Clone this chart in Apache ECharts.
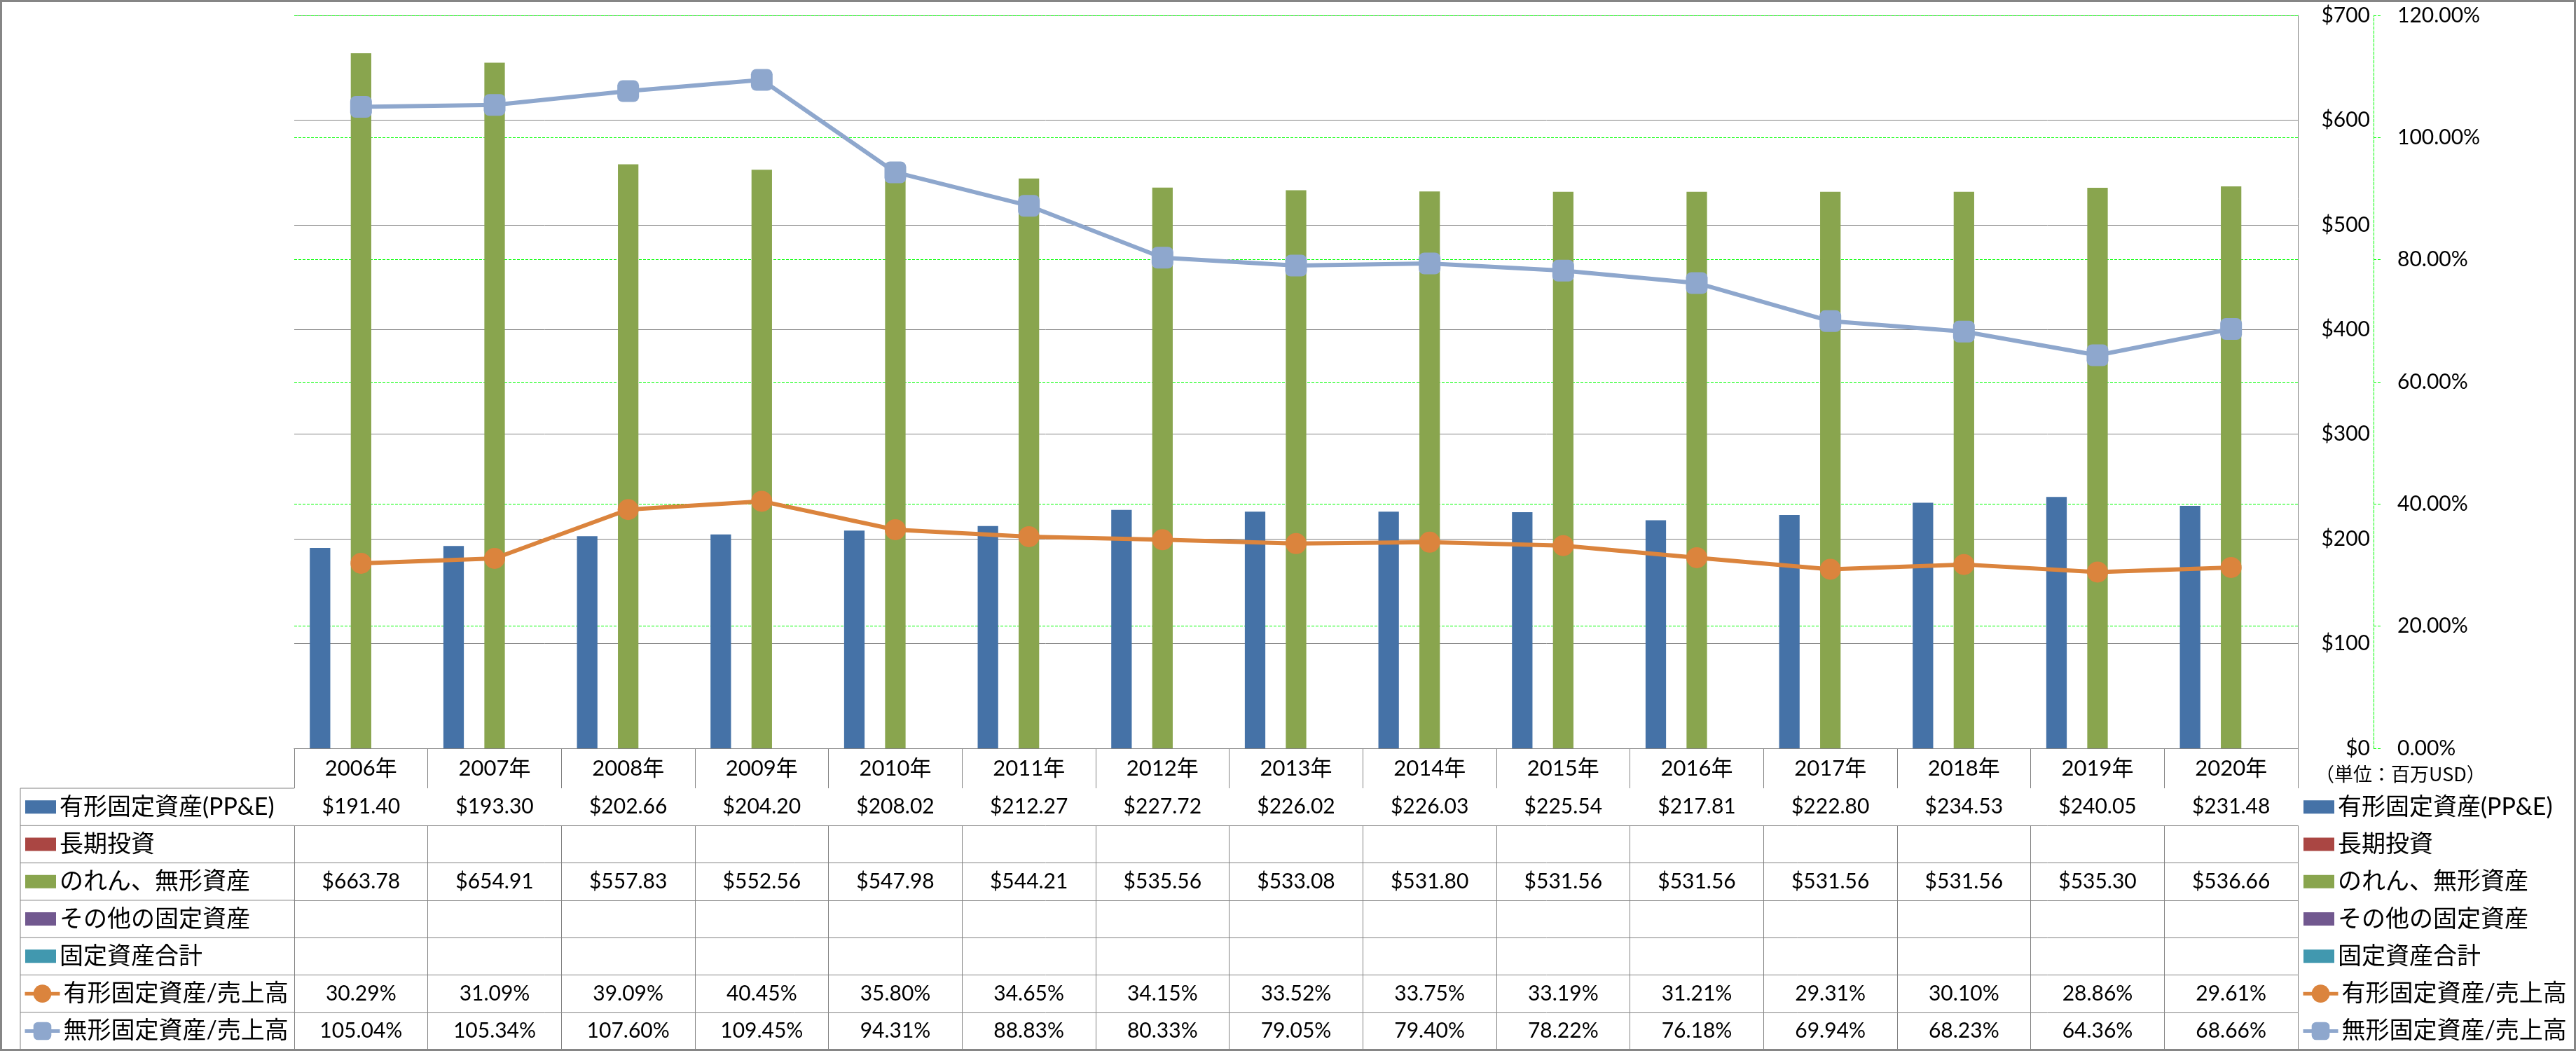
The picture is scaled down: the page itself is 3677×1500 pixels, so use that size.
<!DOCTYPE html>
<html><head><meta charset="utf-8">
<script src="https://cdn.jsdelivr.net/npm/echarts@6/dist/echarts.min.js"></script>
<style>html,body{margin:0;padding:0;background:#fff}#c{width:3677px;height:1500px}</style>
</head><body><div id="c"></div>
<script>
// ---- data ----
const years = ['2006年','2007年','2008年','2009年','2010年','2011年','2012年','2013年','2014年','2015年','2016年','2017年','2018年','2019年','2020年'];
const ppe = [191.40,193.30,202.66,204.20,208.02,212.27,227.72,226.02,226.03,225.54,217.81,222.80,234.53,240.05,231.48];
const longInv = [null,null,null,null,null,null,null,null,null,null,null,null,null,null,null];
const goodwill = [663.78,654.91,557.83,552.56,547.98,544.21,535.56,533.08,531.80,531.56,531.56,531.56,531.56,535.30,536.66];
const otherFixed = [null,null,null,null,null,null,null,null,null,null,null,null,null,null,null];
const totalFixed = [null,null,null,null,null,null,null,null,null,null,null,null,null,null,null];
const ppeRatio = [30.29,31.09,39.09,40.45,35.80,34.65,34.15,33.52,33.75,33.19,31.21,29.31,30.10,28.86,29.61];
const intangRatio = [105.04,105.34,107.60,109.45,94.31,88.83,80.33,79.05,79.40,78.22,76.18,69.94,68.23,64.36,68.66];
const names = ['有形固定資産(PP&E)','長期投資','のれん、無形資産','その他の固定資産','固定資産合計','有形固定資産/売上高','無形固定資産/売上高'];
const unitLabel = '（単位：百万USD）';

// ---- style ----
const FONT = "Lato, 'Noto Sans CJK JP', sans-serif";
const GRAY = '#828282';
const LIME = '#00FF00';
const colors = ['#4572A7','#AA4643','#89A54E','#71588F','#4198AF','#DB843D','#8EA7CD'];
const GL = 420, GR = 3280, GT = 22, GB = 1068, HEAD = 57, ROW = 53.3;

const usd = v => v == null ? '' : '$' + v.toFixed(2);
const pct = v => v == null ? '' : v.toFixed(2) + '%';
const rows = [ppe.map(usd), longInv.map(usd), goodwill.map(usd), otherFixed.map(usd), totalFixed.map(usd), ppeRatio.map(pct), intangRatio.map(pct)];

const xAxes = [{
  type:'category', data: years, gridIndex:0, position:'bottom', offset:0,
  axisLine:{show:true, lineStyle:{color:GRAY, width:1}},
  axisTick:{show:true, interval:0, length:HEAD, lineStyle:{color:GRAY, width:1}},
  axisLabel:{interval:0, margin:HEAD/2, verticalAlign:'middle', fontSize:31, color:'#000', fontFamily:FONT},
  splitLine:{show:false}
}];
rows.forEach((r, k) => {
  xAxes.push({
    type:'category', data: years, gridIndex:0, position:'bottom', offset: HEAD + k*ROW,
    axisLine:{show:true, lineStyle:{color:GRAY, width:1}},
    axisTick:{show:true, interval:0, length:ROW, lineStyle:{color:GRAY, width:1}},
    axisLabel:{interval:0, margin:ROW/2, verticalAlign:'middle', fontSize:30, color:'#000', fontFamily:FONT,
      formatter:(v, i) => r[i] || ''},
    splitLine:{show:false}
  });
});

const barData = [ppe, longInv, goodwill, otherFixed, totalFixed];
const series = barData.map((d, i) => ({
  name: names[i], type:'bar', xAxisIndex:0, yAxisIndex:0, data:d,
  barWidth:29.25, barGap:'0%', itemStyle:{color:colors[i]}, z:2
}));
series.push({
  name:names[5], type:'line', xAxisIndex:0, yAxisIndex:1, data:ppeRatio,
  symbol:'circle', symbolSize:30, lineStyle:{color:colors[5], width:6},
  itemStyle:{color:colors[5]}, z:5
});
series.push({
  name:names[6], type:'line', xAxisIndex:0, yAxisIndex:1, data:intangRatio,
  symbol:'roundRect', symbolSize:31, lineStyle:{color:colors[6], width:6},
  itemStyle:{color:colors[6]}, z:5
});

const firstRowTop = GB + HEAD;
const textStyle = {fontSize:34, lineHeight:40, color:'#000', fontFamily:FONT};
const barLegend = {
  orient:'vertical', selectedMode:false, padding:0,
  itemWidth:44, itemHeight:19, itemGap:ROW-40, textStyle,
  data: names.slice(0,5).map(n => ({name:n, icon:'rect'}))
};
const lineLegend = {
  orient:'vertical', selectedMode:false, padding:0,
  itemWidth:50, itemHeight:32, itemGap:ROW-40, textStyle,
  lineStyle:{width:5},
  data: names.slice(5).map(n => ({name:n}))
};

const gfx = [];
for (let k = 0; k <= 7; k++) {
  gfx.push({type:'line', shape:{x1:29, y1:firstRowTop + k*ROW, x2:GL, y2:firstRowTop + k*ROW}, style:{stroke:GRAY, lineWidth:1}});
}
gfx.push({type:'line', shape:{x1:29, y1:firstRowTop, x2:29, y2:firstRowTop + 7*ROW}, style:{stroke:GRAY, lineWidth:1}});
gfx.push({type:'rect', shape:{x:1.5, y:1.5, width:3674, height:1497}, style:{fill:null, stroke:'#868686', lineWidth:3}, z:100});
gfx.push({type:'text', left:3305, top:1091, style:{text:unitLabel, font:"27px 'Noto Sans CJK JP'", fill:'#000'}});

const option = {
  backgroundColor:'#fff',
  animation:false,
  grid:{left:GL, right:3677-GR, top:GT, bottom:1500-GB, containLabel:false},
  xAxis: xAxes,
  yAxis:[{
    type:'value', position:'right', min:0, max:700, interval:100,
    axisLine:{show:true, lineStyle:{color:GRAY, width:1}},
    axisTick:{show:false},
    axisLabel:{align:'right', margin:103, fontSize:30, color:'#000', fontFamily:FONT, formatter:v => '$' + v},
    splitLine:{show:true, lineStyle:{color:GRAY, width:1}}
  },{
    type:'value', position:'right', offset:108, min:0, max:120, interval:20,
    axisLine:{show:true, lineStyle:{color:LIME, width:1, type:[4,2]}},
    axisTick:{show:true, inside:false, length:11, lineStyle:{color:LIME, width:1, type:[4,2]}},
    axisLabel:{margin:34, fontSize:30, color:'#000', fontFamily:FONT, formatter:v => v.toFixed(2) + '%'},
    splitLine:{show:true, lineStyle:{color:LIME, width:1, type:[4,2]}}
  }],
  legend:[
    Object.assign({}, barLegend, {left:36, top:firstRowTop + ROW/2 - 20}),
    Object.assign({}, lineLegend, {left:33, top:firstRowTop + 5*ROW + ROW/2 - 20}),
    Object.assign({}, barLegend, {left:3288, top:firstRowTop + ROW/2 - 20}),
    Object.assign({}, lineLegend, {left:3285, top:firstRowTop + 5*ROW + ROW/2 - 20})
  ],
  graphic: gfx,
  series: series
};
const chart = echarts.init(document.getElementById('c'), null, {renderer:'canvas'});
chart.setOption(option);
</script></body></html>
